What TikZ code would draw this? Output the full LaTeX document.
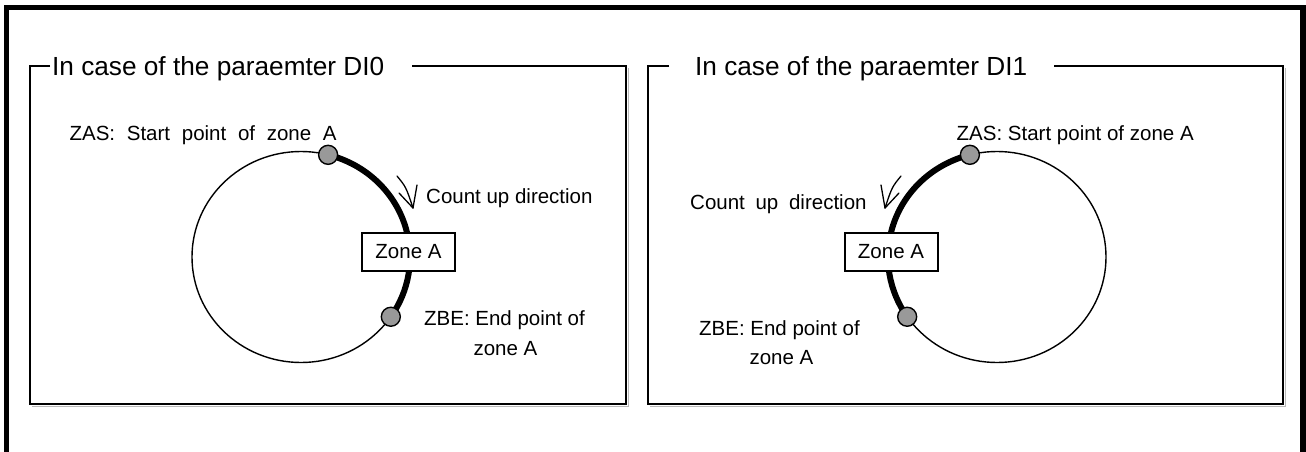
\documentclass[tikz,border=0pt]{standalone}
\usepackage{fontspec}
\setmainfont{Liberation Sans}
\usetikzlibrary{calc}
\definecolor{dotgray}{RGB}{153,153,153}
\definecolor{shadowgray}{RGB}{185,185,185}
\newcommand\wsp{\hspace{11.7pt}}
\newcommand\wsq{\hspace{10.7pt}}
\begin{document}
\begin{tikzpicture}[x=1pt,y=-1pt,
  frameline/.style={line width=5.3pt,line join=miter},
  boxline/.style={line width=2pt,line join=miter},
  shadowline/.style={line width=1pt,shadowgray},
  thinring/.style={line width=1.4pt},
  zonearc/.style={line width=6pt},
  dotnode/.style={circle,draw,line width=1.4pt,fill=dotgray,minimum size=19pt,inner sep=0pt},
  zonebox/.style={draw,line width=2pt,fill=white,minimum width=93pt,minimum height=38pt,inner sep=0pt,font=\fontsize{20.5}{24}\selectfont},
  lbl/.style={inner sep=0pt,font=\fontsize{20.5}{24}\selectfont},
  ttl/.style={inner sep=0pt,anchor=base west,font=\fontsize{26.2}{30}\selectfont},
  arrowline/.style={line width=1.3pt,line cap=round}]
\useasboundingbox (0,0) rectangle (1306,452);
% outer frame
\draw[frameline] (6.7,470) -- (6.7,7.5) -- (1303,7.5) -- (1303,470);

% ---------- left panel ----------
\node[ttl] (t1) at (52,75.5) {In case of the paraemter DI0};
\draw[shadowline] (32,406) -- (628,406) -- (628,68);
\draw[boxline] (50,66) -- (30,66) -- (30,404) -- (626,404) -- (626,66) -- (412,66);
\coordinate (C1) at (301,257);
\draw[thinring] (C1) ellipse [x radius=109, y radius=105.5];
\coordinate (S1) at ($(C1)+(-75.6:109 and 105.5)$);
\coordinate (E1) at ($(C1)+(34.5:109 and 105.5)$);
\draw[zonearc] (S1) arc[start angle=-75.6, end angle=34.5, x radius=109, y radius=105.5];
\node[dotnode] (zas1) at (S1) {};
\node[dotnode] (zbe1) at (E1) {};
\node[zonebox] (z1) at (408.5,252) {Zone A};
\coordinate (tip1) at (413,208);
\draw[arrowline] (397,176) .. controls (406,187) .. (tip1);
\draw[arrowline] (tip1) -- (417,185);
\draw[arrowline] (tip1) -- (399,193);
\node[lbl,anchor=base west] (lzas1) at (69.4,140) {ZAS:\wsp Start\wsp point\wsp of\wsp zone\wsp A};
\node[lbl,anchor=base west] (lcnt1) at (426,203.3) {Count up direction};
\node[lbl,anchor=base] (lzbe1) at (504.5,325.3) {ZBE: End point of};
\node[lbl,anchor=base] (lzbe1b) at (505.5,355) {zone A};

% ---------- right panel ----------
\node[ttl] (t2) at (695,75.5) {In case of the paraemter DI1};
\draw[shadowline] (650,406) -- (1285,406) -- (1285,68);
\draw[boxline] (669,66) -- (648,66) -- (648,404) -- (1283,404) -- (1283,66) -- (1054,66);
\coordinate (C2) at (997,257);
\draw[thinring] (C2) ellipse [x radius=109, y radius=105.5];
\coordinate (S2) at ($(C2)+(255.6:109 and 105.5)$);
\coordinate (E2) at ($(C2)+(145.5:109 and 105.5)$);
\draw[zonearc] (S2) arc[start angle=255.6, end angle=145.5, x radius=109, y radius=105.5];
\node[dotnode] (zas2) at (S2) {};
\node[dotnode] (zbe2) at (E2) {};
\node[zonebox] (z2) at (891,252) {Zone A};
\coordinate (tip2) at (885,208);
\draw[arrowline] (901,176) .. controls (892,187) .. (tip2);
\draw[arrowline] (tip2) -- (881,185);
\draw[arrowline] (tip2) -- (899,193);
\node[lbl,anchor=base west] (lzas2) at (956.5,140) {ZAS: Start point of zone A};
\node[lbl,anchor=base west] (lcnt2) at (690,209) {Count\wsq up\wsq direction};
\node[lbl,anchor=base] (lzbe2) at (779.5,335.3) {ZBE: End point of};
\node[lbl,anchor=base] (lzbe2b) at (781.5,364) {zone A};
\end{tikzpicture}
\end{document}
